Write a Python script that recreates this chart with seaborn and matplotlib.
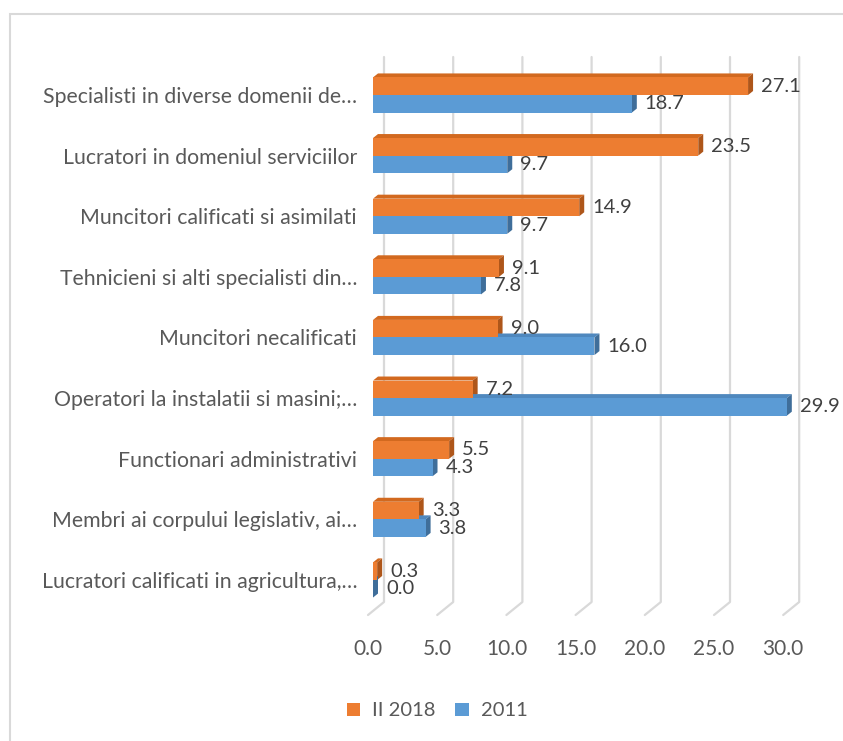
import matplotlib
matplotlib.use("Agg")
import matplotlib.pyplot as plt
import seaborn as sns
import pandas as pd
from matplotlib.patches import Polygon, Rectangle, Patch
from matplotlib.lines import Line2D
from matplotlib.transforms import ScaledTranslation

categories = [
    "Specialisti in diverse domenii de…",
    "Lucratori in domeniul serviciilor",
    "Muncitori calificati si asimilati",
    "Tehnicieni si alti specialisti din…",
    "Muncitori necalificati",
    "Operatori la instalatii si masini;…",
    "Functionari administrativi",
    "Membri ai corpului legislativ, ai…",
    "Lucratori calificati in agricultura,…",
]
series_names = ["II 2018", "2011"]
values_2018 = [27.1, 23.5, 14.9, 9.1, 9.0, 7.2, 5.5, 3.3, 0.3]
values_2011 = [18.7, 9.7, 9.7, 7.8, 16.0, 29.9, 4.3, 3.8, 0.0]
x_ticks = [0, 5, 10, 15, 20, 25, 30]

front_colors = {"II 2018": "#ED7D31", "2011": "#5B9BD5"}
top_colors = {"II 2018": "#D2691F", "2011": "#4F88BE"}
side_colors = {"II 2018": "#AE561A", "2011": "#3F6E9A"}
text_color = "#595959"

sns.set_theme(style="white")
plt.rcParams["font.family"] = ["Lato", "DejaVu Sans"]

df = pd.DataFrame({
    "category": categories * 2,
    "series": [series_names[0]] * len(categories) + [series_names[1]] * len(categories),
    "value": values_2018 + values_2011,
})

W, H = 843, 741
fig = plt.figure(figsize=(W / 100, H / 100), dpi=100)
px_per_unit = 13.84
ax_left, ax_right = 373, 373 + 30 * px_per_unit
ax_top, ax_bottom = 57, 615
ax = fig.add_axes([ax_left / W, 1 - ax_bottom / H,
                   (ax_right - ax_left) / W, (ax_bottom - ax_top) / H])

sns.barplot(data=df, x="value", y="category", hue="series", orient="h",
            order=categories, hue_order=series_names,
            palette=front_colors, width=0.58, ax=ax, legend=False,
            saturation=1, zorder=3, edgecolor="none", linewidth=0)

ax.set_xlim(0, 30)
ax.set_ylim(8.578, -0.627)
for s in ax.spines.values():
    s.set_visible(False)
ax.set_xlabel("")
ax.set_ylabel("")
ax.set_xticks(x_ticks)
ax.set_xticklabels([f"{t:.1f}" for t in x_ticks], fontsize=15, color=text_color)
ax.tick_params(axis="x", length=0, pad=17)
ax.tick_params(axis="y", length=0, pad=11.5, labelsize=15.3, labelcolor=text_color)
shift = ScaledTranslation(-5 / 100, 0, fig.dpi_scale_trans)
for lab in ax.get_xticklabels():
    lab.set_transform(lab.get_transform() + shift)

# Chart frame
fig.add_artist(Rectangle((10 / W, -0.1), 1.2, 1 - 14 / H + 0.1, transform=fig.transFigure,
                         fill=False, edgecolor="#D9D9D9", linewidth=1.5))

fig.canvas.draw()
to_fig = fig.transFigure.inverted()
grid_c = "#D9D9D9"

def fig_pt(xd, yd, dx=0, dy=0):
    X, Y = ax.transData.transform((xd, yd))
    return to_fig.transform((X + dx, Y + dy))

# Back wall gridlines and floor stubs (behind the bars)
back_dx, back_dy = 11, 13
floor_y = ax.get_ylim()[0]
top_y = ax.get_ylim()[1]
for t in x_ticks:
    p_front = fig_pt(t, floor_y, -5, 0)
    p_back = fig_pt(t, floor_y, back_dx, back_dy)
    p_top = fig_pt(t, top_y, back_dx, 0)
    ax.add_artist(Line2D([p_front[0], p_back[0], p_top[0]],
                         [p_front[1], p_back[1], p_top[1]],
                         transform=fig.transFigure, color=grid_c, lw=1.6,
                         zorder=0.5, clip_on=False))

# Bar depth faces and value labels
depth_dx, depth_dy = 5, 4
bars = [b for b in ax.patches if isinstance(b, Rectangle)]
n = len(categories)
all_values = values_2018 + values_2011
for i, bar in enumerate(bars[:2 * n]):
    name = series_names[i // n]
    val = all_values[i]
    x0 = bar.get_x()
    x1 = x0 + val
    yb = bar.get_y() + bar.get_height()  # lower edge on inverted axis
    yt = bar.get_y()                     # upper edge
    a = fig_pt(x0, yt); b = fig_pt(x1, yt)
    c = fig_pt(x1, yt, depth_dx, depth_dy); d = fig_pt(x0, yt, depth_dx, depth_dy)
    top_face = Polygon([a, b, c, d], closed=True, transform=fig.transFigure,
                       facecolor=top_colors[name], edgecolor="none", zorder=2,
                       clip_on=False)
    ax.add_artist(top_face)
    e = fig_pt(x1, yb); f = fig_pt(x1, yb, depth_dx, depth_dy)
    side = Polygon([b, c, f, e], closed=True, transform=fig.transFigure,
                   facecolor=side_colors[name], edgecolor="none", zorder=2,
                   clip_on=False)
    ax.add_artist(side)
    ax.annotate(f"{val:.1f}", xy=(x1, bar.get_y() + bar.get_height() / 2),
                xytext=(depth_dx + 8, 0), textcoords="offset pixels",
                ha="left", va="center", fontsize=14.5, color="#404040",
                annotation_clip=False, zorder=5)

# Legend
handles = [Patch(facecolor=front_colors[s], edgecolor="none", label=s) for s in series_names]
fig.legend(handles=handles, loc="center", bbox_to_anchor=(437 / W, 1 - 711 / H),
           ncol=2, frameon=False, fontsize=14.5, labelcolor=text_color,
           handlelength=0.65, handleheight=0.65, handletextpad=0.6, columnspacing=1.0)

fig.savefig("out.png", dpi=100, facecolor="white")
